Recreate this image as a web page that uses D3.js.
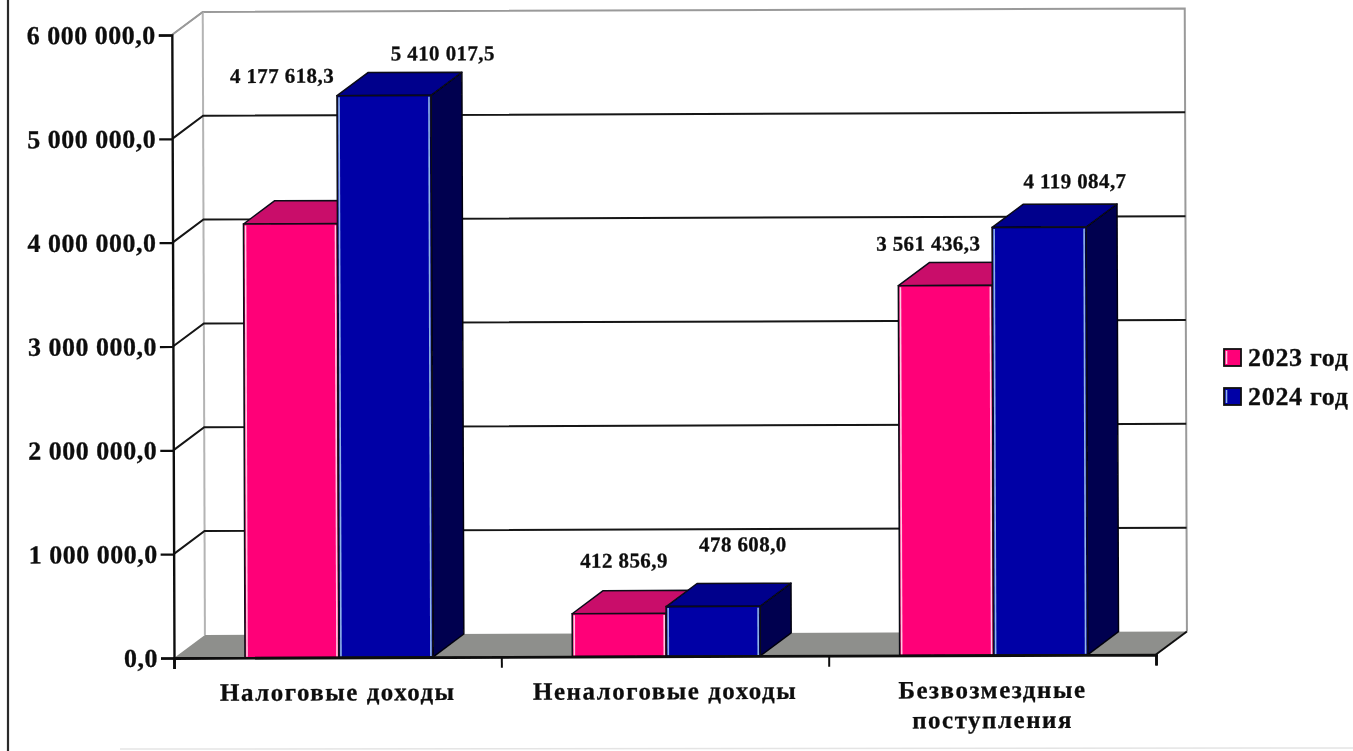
<!DOCTYPE html>
<html>
<head>
<meta charset="utf-8">
<script src="https://cdn.jsdelivr.net/npm/d3@7"></script>
<style>
  html, body { margin: 0; padding: 0; background: #fff; }
  svg { display: block; }
  text { font-family: "Liberation Serif", serif; font-weight: bold; fill: #111; stroke: #111; stroke-width: 0.3px; }
</style>
</head>
<body>
<svg id="chart"></svg>
<script>
const categories = ["Налоговые доходы", "Неналоговые доходы", "Безвозмездные поступления"];
const seriesNames = ["2023 год", "2024 год"];
const values2023 = [4177618.3, 412856.9, 3561436.3];
const values2024 = [5410017.5, 478608.0, 4119084.7];
const yTicks = [0, 1000000, 2000000, 3000000, 4000000, 5000000, 6000000];

const width = 1353;
const height = 751;
const margin = { top: 35, right: 197, bottom: 93, left: 174 };
const depth = { x: 31, y: -23 };
const colors = {
  "2023 год": { front: "#ff0078", top: "#c9106a", side: "#8a0a4a", edge: "#ffc8e0" },
  "2024 год": { front: "#0000a6", top: "#00008c", side: "#000050", edge: "#8fb4e8" }
};
// the labels were dragged by hand in the original, so they sit off their bars
const labelNudge = {
  "2023 год": [[-8, -141], [5, -46], [-17, -35]],
  "2024 год": [[59, -35], [30, -55], [36, -39]]
};

const ru = d3.formatLocale({ decimal: ",", thousands: " ", grouping: [3], currency: ["", ""] });
const fmt = ru.format(",.1f");

const svg = d3.select("#chart").attr("width", width).attr("height", height);
svg.append("defs").append("filter").attr("id", "scan")
  .attr("x", 0).attr("y", 0).attr("width", "100%").attr("height", "100%")
  .append("feGaussianBlur").attr("stdDeviation", 0.45);

const root = svg.append("g").attr("filter", "url(#scan)");
root.append("rect").attr("width", width).attr("height", height).attr("fill", "#fff");

// page edges of the scan
root.append("line").attr("x1", 8).attr("x2", 8).attr("y1", 0).attr("y2", height)
  .attr("stroke", "#2a2a2a").attr("stroke-width", 2.2);
root.append("line").attr("x1", 120).attr("x2", width).attr("y1", 749).attr("y2", 748)
  .attr("stroke", "#e4e4e4").attr("stroke-width", 1.5);

const plot = root.append("g").attr("transform", `rotate(-0.2 ${margin.left} ${height - margin.bottom})`);

const innerLeft = margin.left;
const innerRight = width - margin.right;
const y = d3.scaleLinear().domain([0, 6000000]).range([height - margin.bottom, margin.top]);
const x0 = d3.scaleBand().domain(categories).range([innerLeft, innerRight]);
const x1 = d3.scaleBand().domain(seriesNames)
  .range([x0.bandwidth() * 0.217, x0.bandwidth() * 0.791]);

const xEnd = innerRight;
const poly = pts => pts.map(p => p.join(",")).join(" ");

// back wall + left wall
plot.append("polyline")
  .attr("points", poly([
    [innerLeft, y(6000000)],
    [innerLeft + depth.x, y(6000000) + depth.y],
    [xEnd + depth.x, y(6000000) + depth.y],
    [xEnd + depth.x, y(0) + depth.y]
  ]))
  .attr("fill", "none").attr("stroke", "#9a9a9a").attr("stroke-width", 2);
plot.append("line")
  .attr("x1", innerLeft + depth.x).attr("x2", innerLeft + depth.x)
  .attr("y1", y(6000000) + depth.y).attr("y2", y(0) + depth.y)
  .attr("stroke", "#b4b4b4").attr("stroke-width", 2);

// floor
plot.append("polygon")
  .attr("points", poly([
    [innerLeft, y(0)],
    [innerLeft + depth.x, y(0) + depth.y],
    [xEnd + depth.x, y(0) + depth.y],
    [xEnd, y(0)]
  ]))
  .attr("fill", "#8e8f8c");
plot.append("line")
  .attr("x1", xEnd).attr("y1", y(0))
  .attr("x2", xEnd + depth.x).attr("y2", y(0) + depth.y)
  .attr("stroke", "#111").attr("stroke-width", 2);

// gridlines
yTicks.filter(d => d > 0 && d < 6000000).forEach(d => {
  plot.append("polyline")
    .attr("points", poly([
      [innerLeft, y(d)],
      [innerLeft + depth.x, y(d) + depth.y],
      [xEnd + depth.x, y(d) + depth.y]
    ]))
    .attr("fill", "none").attr("stroke", "#141414").attr("stroke-width", 2);
});
plot.append("line")
  .attr("x1", innerLeft).attr("y1", y(6000000))
  .attr("x2", innerLeft + depth.x).attr("y2", y(6000000) + depth.y)
  .attr("stroke", "#9a9a9a").attr("stroke-width", 1.5);

// bars
const rows = categories.flatMap((c, i) => [
  { cat: c, i, name: seriesNames[0], value: values2023[i] },
  { cat: c, i, name: seriesNames[1], value: values2024[i] }
]);
rows.forEach(d => {
  const c = colors[d.name];
  const left = x0(d.cat) + x1(d.name);
  const right = left + x1.bandwidth();
  const top = y(d.value);
  const bottom = y(0);
  const bar = plot.append("g");
  bar.append("polygon")
    .attr("points", poly([[right, top], [right + depth.x, top + depth.y], [right + depth.x, bottom + depth.y], [right, bottom]]))
    .attr("fill", c.side).attr("stroke", "#050510").attr("stroke-width", 1.5).attr("stroke-linejoin", "round");
  bar.append("polygon")
    .attr("points", poly([[left, top], [left + depth.x, top + depth.y], [right + depth.x, top + depth.y], [right, top]]))
    .attr("fill", c.top).attr("stroke", "#080818").attr("stroke-width", 1.5).attr("stroke-linejoin", "round");
  bar.append("rect")
    .attr("x", left).attr("y", top)
    .attr("width", x1.bandwidth()).attr("height", bottom - top)
    .attr("fill", c.front).attr("stroke", "#0a0a14").attr("stroke-width", 1.6);
  // pale inner edge the original bars have on both sides
  [left + 2, right - 2].forEach(px => {
    bar.append("line").attr("x1", px).attr("x2", px).attr("y1", top + 1.5).attr("y2", bottom - 1)
      .attr("stroke", c.edge).attr("stroke-width", 1.6);
  });
});

// y axis
const yAxis = plot.append("g").attr("transform", `translate(${innerLeft},0)`)
  .call(d3.axisLeft(y).tickValues(yTicks).tickFormat(fmt).tickSize(13).tickPadding(3));
yAxis.select(".domain").attr("stroke", "#111").attr("stroke-width", 2.4);
yAxis.selectAll(".tick line").attr("stroke", "#111").attr("stroke-width", 2.2);
yAxis.selectAll("text").style("font-size", "26px").style("letter-spacing", "0.5px").attr("fill", "#111");

// x axis
const xAxis = plot.append("g").attr("transform", `translate(0,${y(0)})`)
  .call(d3.axisBottom(d3.scaleLinear().domain([0, 3]).range([innerLeft, innerRight]))
    .tickValues([0, 1, 2, 3]).tickFormat("").tickSize(11));
xAxis.select(".domain").attr("stroke", "#0a0a0a").attr("stroke-width", 2.8);
xAxis.selectAll(".tick line").attr("stroke", "#111").attr("stroke-width", 2);

// category labels, long ones wrap on two lines
const catLabels = [["Налоговые доходы"], ["Неналоговые доходы"], ["Безвозмездные", "поступления"]];
categories.forEach((c, i) => {
  const t = plot.append("text")
    .attr("text-anchor", "middle")
    .attr("x", x0(c) + x0.bandwidth() / 2)
    .attr("y", y(0) + 43)
    .style("font-size", "25px")
    .style("letter-spacing", "1.5px");
  catLabels[i].forEach((line, k) => {
    t.append("tspan").attr("x", x0(c) + x0.bandwidth() / 2).attr("dy", k ? 30 : 0).text(line);
  });
});

// value labels
rows.forEach(d => {
  const nudge = labelNudge[d.name][d.i];
  plot.append("text")
    .attr("text-anchor", "middle")
    .attr("x", x0(d.cat) + x1(d.name) + x1.bandwidth() / 2 + nudge[0])
    .attr("y", y(d.value) + nudge[1])
    .style("font-size", "21px")
    .style("letter-spacing", "0.4px")
    .text(fmt(d.value));
});

// legend
const legend = root.append("g").attr("transform", "translate(1224,349)");
seriesNames.forEach((name, i) => {
  const row = legend.append("g").attr("transform", `translate(0,${i * 39})`);
  row.append("rect").attr("width", 17).attr("height", 17)
    .attr("fill", colors[name].front).attr("stroke", "#111").attr("stroke-width", 1.8);
  row.append("line").attr("x1", 2.5).attr("x2", 2.5).attr("y1", 2).attr("y2", 15)
    .attr("stroke", colors[name].edge).attr("stroke-width", 1.6);
  row.append("text").attr("x", 24).attr("y", 17)
    .style("font-size", "26px").style("letter-spacing", "0.7px").text(name);
});
</script>
</body>
</html>
